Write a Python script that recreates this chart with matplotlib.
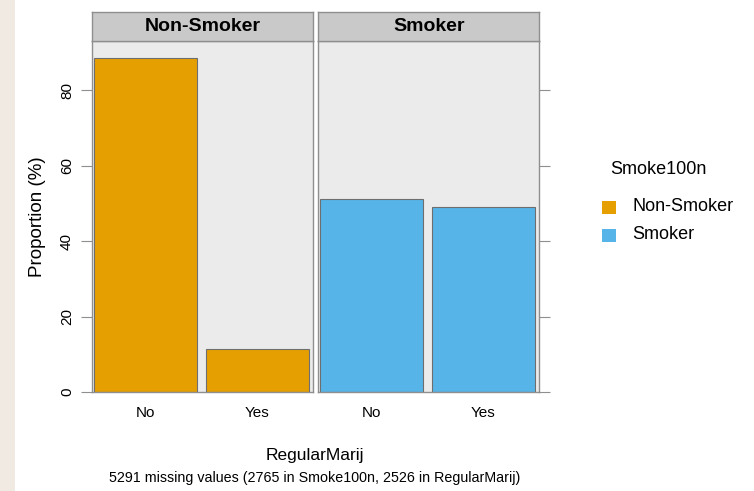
import matplotlib.pyplot as plt
from matplotlib.patches import Rectangle

plt.rcParams['font.family'] = ['Liberation Sans', 'DejaVu Sans']

panels = ['Non-Smoker', 'Smoker']
categories = ['No', 'Yes']
proportions = {'Non-Smoker': [88.6, 11.4], 'Smoker': [51.1, 48.9]}
colors = {'Non-Smoker': '#E69F00', 'Smoker': '#56B4E9'}
yticks = [0, 20, 40, 60, 80]

fig = plt.figure(figsize=(7.54, 4.91), dpi=100)
fig.patch.set_facecolor('white')
# faint background band on the left edge
fig.add_artist(Rectangle((0, 0), 0.02, 1, transform=fig.transFigure,
                         facecolor='#F1EAE3', edgecolor='none', zorder=0))

frame = '#8F8F8F'
lefts = [0.122, 0.4218]
w, bottom, h = 0.2935, 0.2016, 0.715
strip_h = 0.059

for i, p in enumerate(panels):
    ax = fig.add_axes([lefts[i], bottom, w, h])
    ax.set_facecolor('#EBEBEB')
    ax.bar(range(len(categories)), proportions[p], width=0.92,
           color=colors[p], edgecolor='#6E6E6E', linewidth=0.8)
    ax.set_xlim(-0.48, 1.5)
    ax.set_ylim(0, 93)
    ax.set_xticks(range(len(categories)))
    ax.set_xticklabels(categories, fontsize=11)
    ax.tick_params(axis='x', length=0, pad=10)
    for s in ax.spines.values():
        s.set_color(frame)
        s.set_linewidth(1.0)
    ax.set_yticks(yticks)
    if i == 0:
        ax.set_yticklabels([str(t) for t in yticks], rotation=90, va='center', fontsize=11)
        ax.tick_params(axis='y', direction='out', length=8, color=frame, pad=5)
        ax.set_ylabel('Proportion (%)', fontsize=13.5, labelpad=10)
    else:
        ax.yaxis.tick_right()
        ax.set_yticklabels([])
        ax.tick_params(axis='y', direction='out', length=8, color=frame)

    sax = fig.add_axes([lefts[i], bottom + h, w, strip_h])
    sax.set_facecolor('#C9C9C9')
    sax.set_xticks([])
    sax.set_yticks([])
    for s in sax.spines.values():
        s.set_color(frame)
        s.set_linewidth(1.0)
    sax.text(0.5, 0.5, p, ha='center', va='center', fontsize=14,
             fontweight='bold', transform=sax.transAxes)

fig.text(0.418, 0.0715, 'RegularMarij', ha='center', va='center', fontsize=12.5)
fig.text(0.418, 0.026, '5291 missing values (2765 in Smoke100n, 2526 in RegularMarij)',
         ha='center', va='center', fontsize=10.3)

# legend
fig.text(610 / 754, 1 - 170 / 491, 'Smoke100n', ha='left', va='center', fontsize=13)
for j, p in enumerate(panels):
    yc = 1 - (207 + 28 * j) / 491
    fig.add_artist(Rectangle((602 / 754, yc - 6.5 / 491), 14 / 754, 13 / 491,
                             transform=fig.transFigure, facecolor=colors[p], edgecolor='none'))
    fig.text(632 / 754, yc, p, ha='left', va='center', fontsize=13)

fig.savefig('out.png', dpi=100)
